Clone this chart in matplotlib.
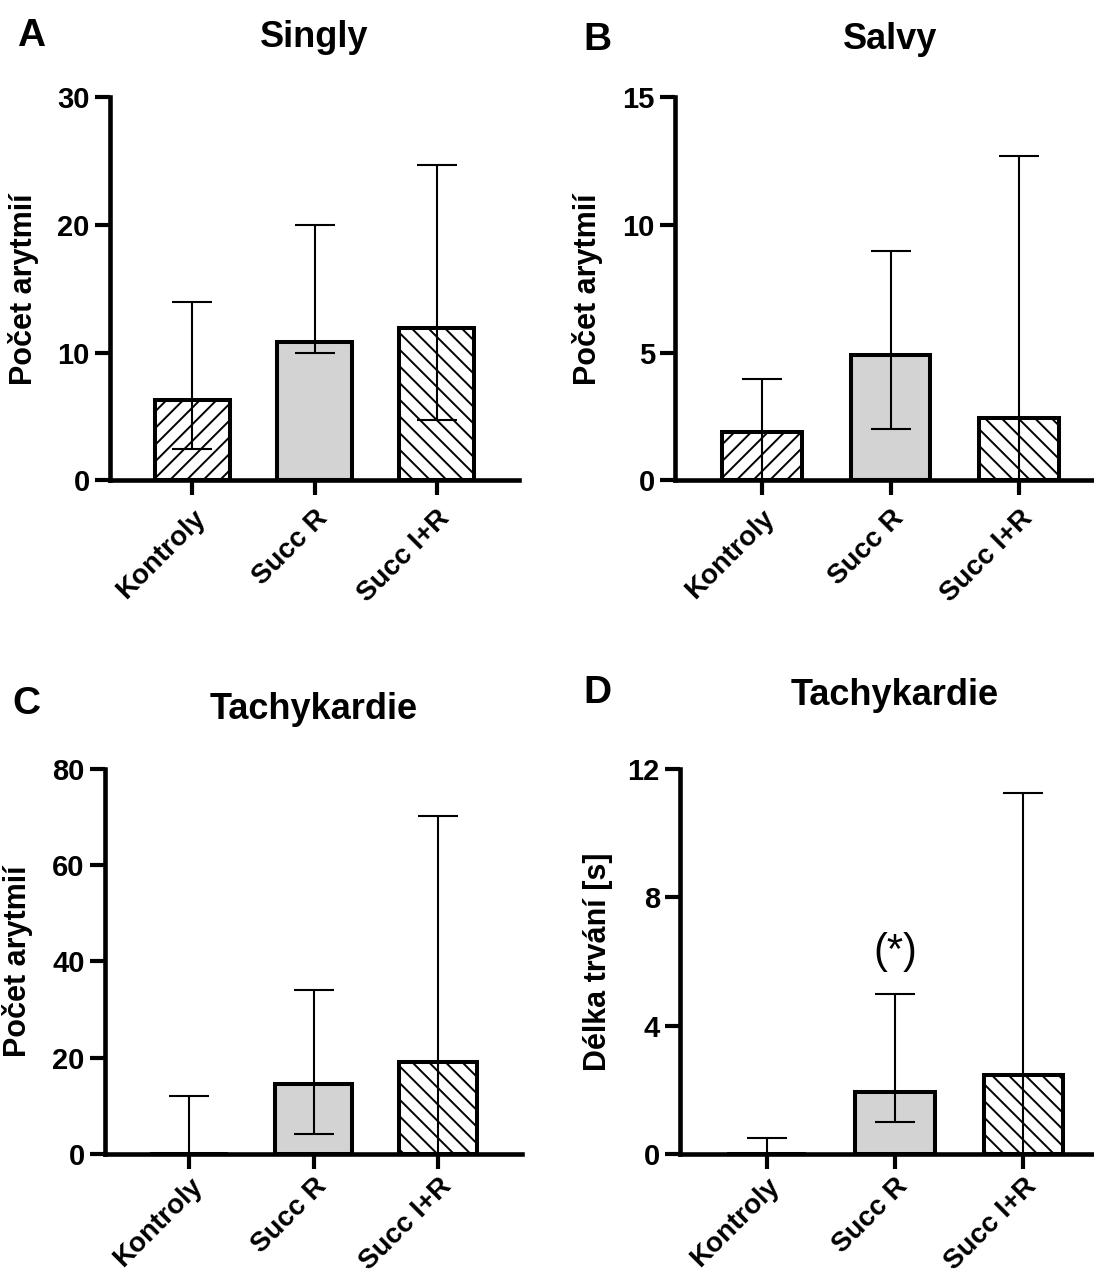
import numpy as np
import matplotlib
matplotlib.use("Agg")
from matplotlib import pyplot as plt

plt.rcParams["font.family"] = ["Liberation Sans", "DejaVu Sans"]
plt.rcParams["hatch.linewidth"] = 1.4

skupiny = ["Kontroly", "Succ R", "Succ I+R"]
vzory = ["//", "", "\\\\"]
barvy = ["white", "#d3d3d3", "white"]

singly_median = [6.3, 10.85, 11.9]
singly_dolni = [2.5, 10, 4.75]
singly_horni = [14, 20, 24.7]

salvy_median = [1.9, 4.92, 2.43]
salvy_dolni = [0, 2, 0]
salvy_horni = [3.97, 8.97, 12.68]

tachy_pocet_median = [0, 14.6, 19.1]
tachy_pocet_dolni = [0, 4.1, 0]
tachy_pocet_horni = [12.1, 34, 70.1]

tachy_delka_median = [0, 1.94, 2.46]
tachy_delka_dolni = [0, 1.01, 0]
tachy_delka_horni = [0.49, 4.98, 11.24]

W, H = 1094, 1276
fig = plt.figure(figsize=(W / 100, H / 100), dpi=100)


def obdelnik(levy, pravy, horni, dolni):
    return [levy / W, 1 - dolni / H, (pravy - levy) / W, (dolni - horni) / H]


def panel(rect, median, dolni, horni, yticks, ylabel, label_x, xpad=7):
    ax = fig.add_axes(rect)
    x = np.arange(len(skupiny))
    median = np.array(median, dtype=float)
    dolni = np.array(dolni, dtype=float)
    horni = np.array(horni, dtype=float)
    sloupce = ax.bar(x, median, width=0.62, color=barvy, edgecolor="black",
                     linewidth=2.9, zorder=2)
    for sloupec, vzor in zip(sloupce, vzory):
        sloupec.set_hatch(vzor)
    ax.errorbar(x, median, yerr=[median - dolni, horni - median], fmt="none",
                ecolor="black", elinewidth=1.5, capsize=14.4, capthick=1.5,
                zorder=3)
    ax.set_xlim(-0.675, 2.675)
    ax.set_ylim(0, yticks[-1])
    ax.set_yticks(yticks)
    ax.set_xticks(x)
    ax.set_xticklabels(skupiny, rotation=45, ha="right", va="top",
                       rotation_mode="anchor", fontsize=20, fontweight="bold")
    for t in ax.get_yticklabels():
        t.set_fontsize(21)
        t.set_fontweight("bold")
    ax.tick_params(axis="both", direction="out", length=11, width=3, pad=3.5)
    ax.tick_params(axis="x", pad=xpad)
    for s in ["top", "right"]:
        ax.spines[s].set_visible(False)
    for s in ["left", "bottom"]:
        ax.spines[s].set_linewidth(3.3)
    ax.set_ylabel(ylabel, fontsize=22, fontweight="bold")
    ax.yaxis.set_label_coords(label_x, 0.5)
    return ax


axA = panel(obdelnik(110, 519, 97, 480.5), singly_median, singly_dolni,
            singly_horni, [0, 10, 20, 30], "Počet arytmií", -0.1735)
axB = panel(obdelnik(675, 1106, 97, 480.5), salvy_median, salvy_dolni,
            salvy_horni, [0, 5, 10, 15], "Počet arytmií", -0.166)
axC = panel(obdelnik(105, 522, 768.7, 1154), tachy_pocet_median,
            tachy_pocet_dolni, tachy_pocet_horni, [0, 20, 40, 60, 80],
            "Počet arytmií", -0.173, xpad=3)
axD = panel(obdelnik(680, 1110, 768.7, 1154), tachy_delka_median,
            tachy_delka_dolni, tachy_delka_horni, [0, 4, 8, 12],
            "Délka trvání [s]", -0.156, xpad=3)

axD.text(1, 6.28, "(*)", ha="center", va="center", fontsize=30)

# nadpisy a pismena panelu (pixely od horniho okraje)
nadpisy = [("Singly", 314.5, 47), ("Salvy", 890.5, 49),
           ("Tachykardie", 313.5, 719), ("Tachykardie", 895, 705)]
for text, px, py in nadpisy:
    fig.text(px / W, 1 - py / H, text, ha="center", va="baseline",
             fontsize=26, fontweight="bold")

pismena = [("A", 17, 46), ("B", 583, 50), ("C", 12, 714), ("D", 583, 703)]
for text, px, py in pismena:
    fig.text(px / W, 1 - py / H, text, ha="left", va="baseline",
             fontsize=28, fontweight="bold")

fig.savefig("out.png", dpi=100)
